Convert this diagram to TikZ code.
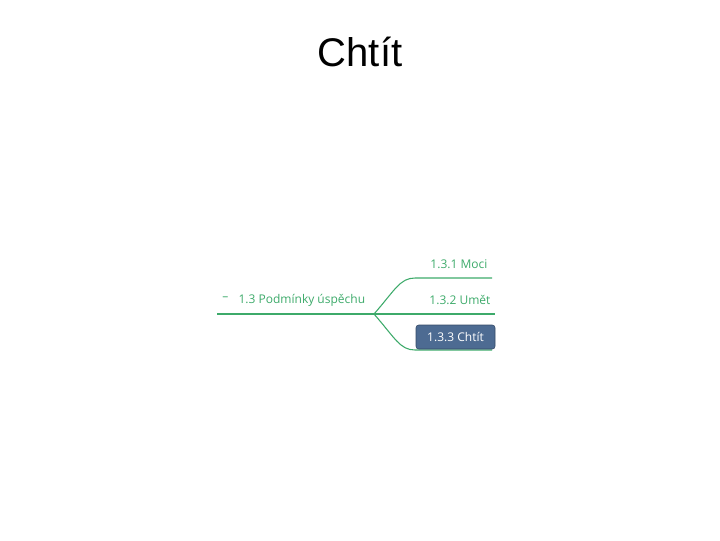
\documentclass[tikz,border=0pt]{standalone}
\usepackage{fontspec}
\setmainfont{Liberation Sans}
\newfontfamily\mapfont{Open Sans}
\definecolor{mapgreen}{HTML}{3DAA6A}
\definecolor{boxblue}{HTML}{4D6B92}
\begin{document}
\begin{tikzpicture}[x=0.75pt,y=-0.75pt,
  branch/.style={draw=mapgreen,line width=0.8pt},
  label/.style={font=\mapfont\fontsize{9}{10}\selectfont,text=mapgreen,inner sep=1pt}]
\useasboundingbox (0,0) rectangle (720,540);
\node[font=\fontsize{30}{34}\selectfont] (title) at (360,52) {Chtít};
% root
\coordinate (rootL) at (217,314);
\coordinate (hub) at (374,314);
\node[label,anchor=east] (minus) at (230,299) {–};
\node[label,anchor=west] (root) at (237,300) {1.3 Podmínky úspěchu};
\draw[branch] (rootL) -- (hub);
% children
\coordinate (c1a) at (415,278); \coordinate (c1b) at (492,278);
\coordinate (c3a) at (415,350); \coordinate (c3b) at (492,350);
\coordinate (c2b) at (495,314);
\draw[branch] (hub) .. controls (395,290) and (400,278) .. (c1a) -- (c1b);
\draw[branch] (hub) -- (c2b);
\draw[branch] (hub) .. controls (395,338) and (400,350) .. (c3a) -- (c3b);
\node[label,anchor=east] (moci) at (489,264) {1.3.1 Moci};
\node[label,anchor=east] (umet) at (492,300) {1.3.2 Umět};
\node[fill=boxblue,draw=boxblue!70!black,rounded corners=2pt,minimum width=59.25pt,minimum height=18pt,
  text=white,font=\mapfont\fontsize{9}{10}\selectfont,inner sep=1pt] (chtit) at (455.5,337) {1.3.3 Chtít};
\end{tikzpicture}
\end{document}
